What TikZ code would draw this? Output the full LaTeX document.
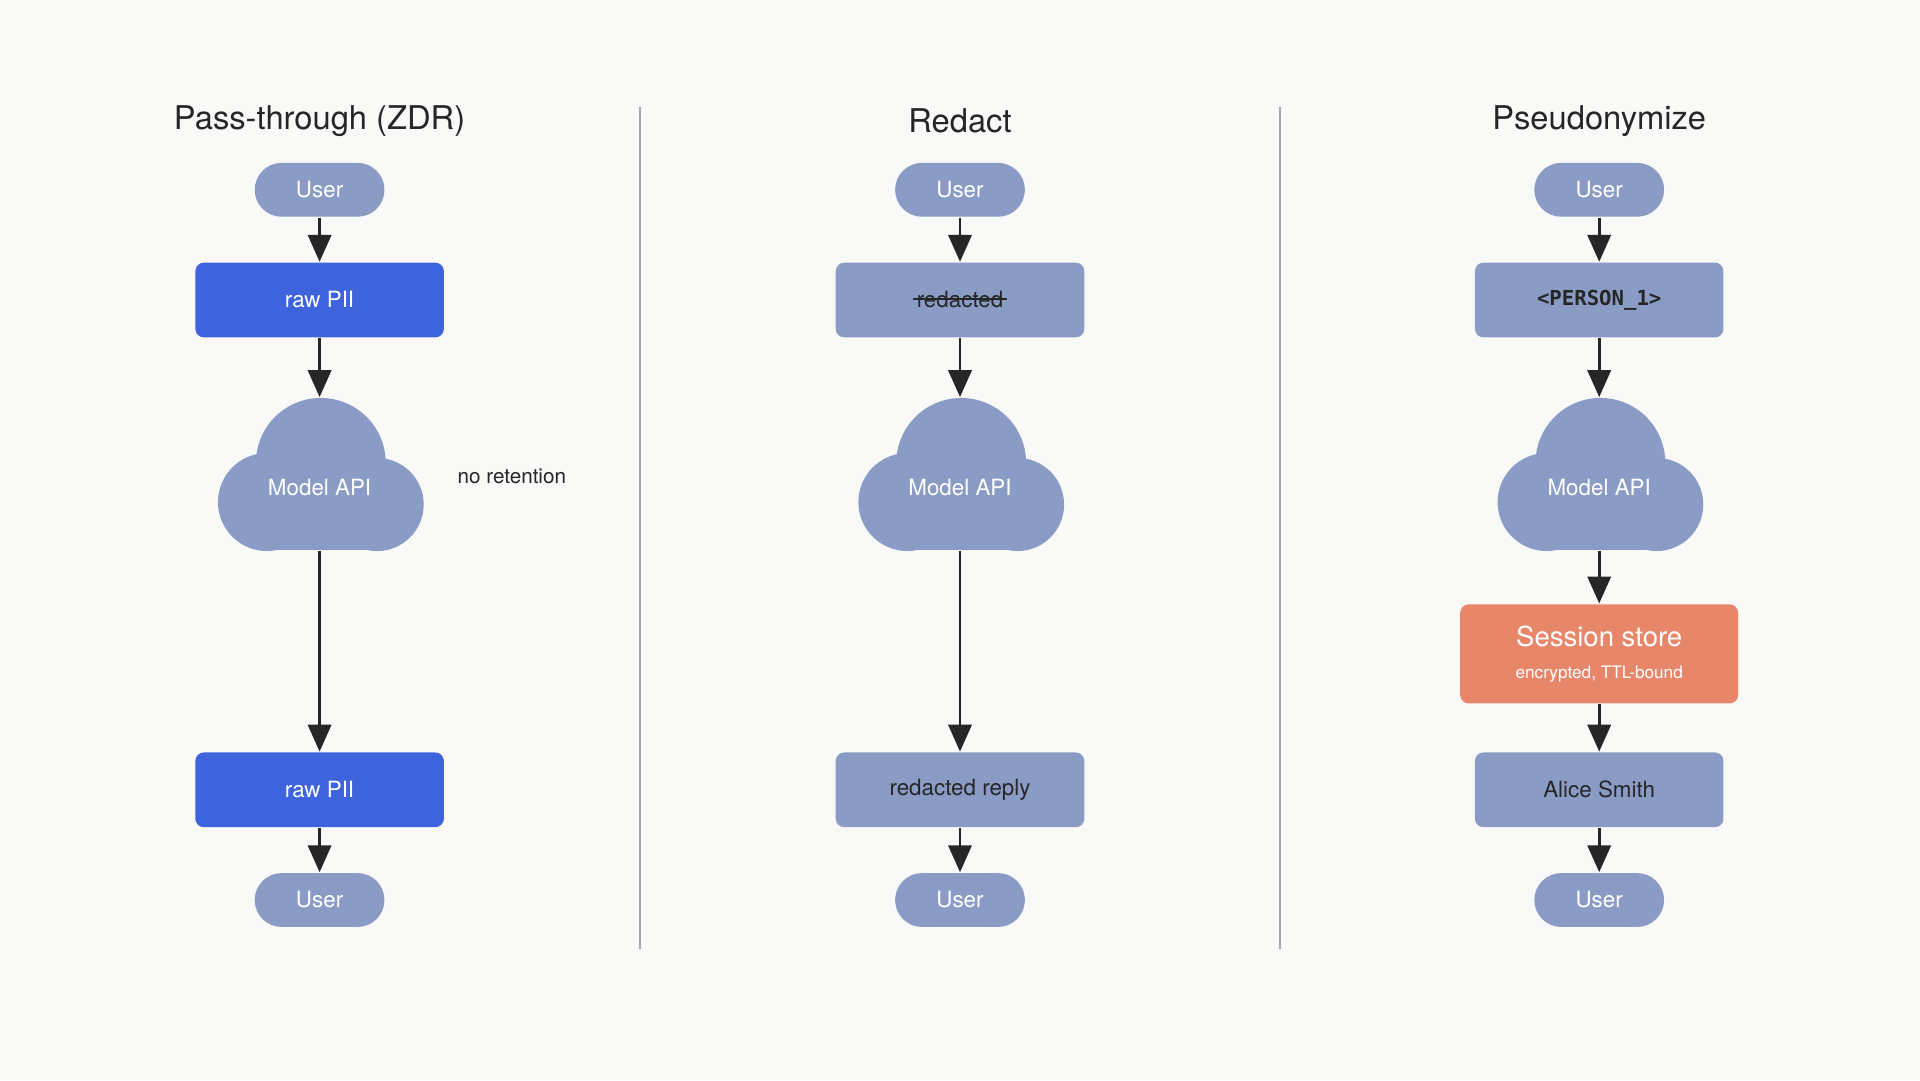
\documentclass[tikz,border=0pt]{standalone}
\usepackage{fontspec}
\setmainfont{TeX Gyre Heros}
\setmonofont{DejaVu Sans Mono}
\usetikzlibrary{arrows.meta,calc,positioning}
\definecolor{bgc}{HTML}{F9F9F7}
\definecolor{slate}{HTML}{8A9CC5}
\definecolor{piiblue}{HTML}{3D63DD}
\definecolor{store}{HTML}{E8866A}
\definecolor{ink}{HTML}{262626}
\tikzset{
  pill/.style={rounded corners=0.22cm, fill=slate, minimum width=1.06cm, minimum height=0.44cm, text=white, font=\fontsize{5.2}{6}\selectfont},
  box/.style={rounded corners=0.07cm, fill=slate, minimum width=2.03cm, minimum height=0.61cm, text=ink, font=\fontsize{5.2}{6}\selectfont},
  pii/.style={box, fill=piiblue, text=white},
  apibox/.style={minimum width=1.7cm, minimum height=1.24cm, inner sep=0pt},
  title/.style={text=ink, font=\fontsize{7.6}{9}\selectfont},
  flow/.style={-{Triangle[length=0.22cm, width=0.19cm]}, ink, line width=0.65pt},
}
% cloud around (#1,#2) = centre of the api box
\newcommand{\cloudat}[2]{%
  \fill[slate] (#1+0.01,#2+0.09) circle (0.53);
  \fill[slate] (#1-0.43,#2-0.23) circle (0.40);
  \fill[slate] (#1+0.47,#2-0.25) circle (0.38);
  \fill[slate] (#1-0.43,#2-0.62) rectangle (#1+0.47,#2-0.25);
}
\begin{document}
\begin{tikzpicture}
  \useasboundingbox[fill=bgc] (0,0) rectangle (15.68,8.82);

  % dividers
  \draw[gray!70, line width=0.5pt] (5.23,1.07) -- (5.23,7.95);
  \draw[gray!70, line width=0.5pt] (10.45,1.07) -- (10.45,7.95);

  % Column 1: pass-through
  \node[title] (t1) at (2.61,7.83) {Pass-through (ZDR)};
  \node[pill] (u1a) at (2.61,7.27) {User};
  \node[pii] (p1a) at (2.61,6.37) {raw PII};
  \cloudat{2.61}{4.95}
  \node[apibox] (api1) at (2.61,4.95) {};
  \node[text=white, font=\fontsize{5.2}{6}\selectfont] at (2.61,4.84) {Model API};
  \node[text=ink, font=\fontsize{4.8}{6}\selectfont] (nr) at (4.18,4.93) {no retention};
  \node[pii] (p1b) at (2.61,2.37) {raw PII};
  \node[pill] (u1b) at (2.61,1.47) {User};
  \draw[flow] (u1a) -- (p1a);
  \draw[flow] (p1a) -- (api1);
  \draw[flow] (api1) -- (p1b);
  \draw[flow] (p1b) -- (u1b);

  % Column 2: redact
  \node[title] (t2) at (7.84,7.83) {Redact};
  \node[pill] (u2a) at (7.84,7.27) {User};
  \node[box] (p2a) at (7.84,6.37) {};
  \node[text=ink, font=\fontsize{5.2}{6}\selectfont, inner sep=0pt] (red) at (7.84,6.37) {redacted};
  \draw[ink, line width=0.5pt] ($(red.west)+(-0.02,0.01)$) -- ($(red.east)+(0.02,0.01)$);
  \cloudat{7.84}{4.95}
  \node[apibox] (api2) at (7.84,4.95) {};
  \node[text=white, font=\fontsize{5.2}{6}\selectfont] at (7.84,4.84) {Model API};
  \node[box] (p2b) at (7.84,2.37) {redacted reply};
  \node[pill] (u2b) at (7.84,1.47) {User};
  \draw[flow] (u2a) -- (p2a);
  \draw[flow] (p2a) -- (api2);
  \draw[flow] (api2) -- (p2b);
  \draw[flow] (p2b) -- (u2b);

  % Column 3: pseudonymize
  \node[title] (t3) at (13.06,7.83) {Pseudonymize};
  \node[pill] (u3a) at (13.06,7.27) {User};
  \node[box, font=\ttfamily\bfseries\fontsize{4.8}{6}\selectfont] (p3a) at (13.06,6.37) {<PERSON\_1>};
  \cloudat{13.06}{4.95}
  \node[apibox] (api3) at (13.06,4.95) {};
  \node[text=white, font=\fontsize{5.2}{6}\selectfont] at (13.06,4.84) {Model API};
  \node[box, fill=store, text=white, minimum width=2.27cm, minimum height=0.81cm, align=center] (ss) at (13.06,3.48)
    {{\fontsize{6.4}{7}\selectfont Session store}\\[0.5mm]{\fontsize{4}{5}\selectfont encrypted, TTL-bound}};
  \node[box] (p3b) at (13.06,2.37) {Alice Smith};
  \node[pill] (u3b) at (13.06,1.47) {User};
  \draw[flow] (u3a) -- (p3a);
  \draw[flow] (p3a) -- (api3);
  \draw[flow] (api3) -- (ss);
  \draw[flow] (ss) -- (p3b);
  \draw[flow] (p3b) -- (u3b);
\end{tikzpicture}
\end{document}
